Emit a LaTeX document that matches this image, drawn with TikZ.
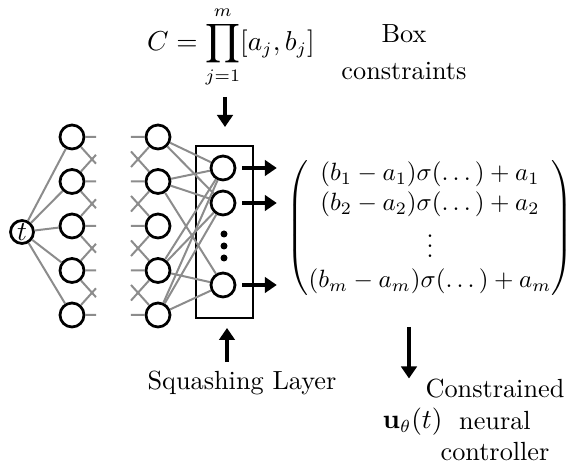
\documentclass[tikz,border=0pt]{standalone}
\usepackage{amsmath}
\usetikzlibrary{arrows.meta,calc}

\begin{document}
\begin{tikzpicture}[x=0.4pt,y=-0.4pt,
    every node/.style={font=\fontsize{10.5}{12.6}\selectfont},
    neuron/.style={draw,circle,line width=1.1pt,minimum size=9.6pt,inner sep=0pt},
    wire/.style={gray!90,line width=0.8pt},
    bigarrow/.style={line width=1.4pt,-{Triangle[length=4.8pt,width=6.2pt]}}]
  \useasboundingbox (0,0) rectangle (575,466);
  % input and the two hidden layers
  \node[neuron,minimum size=8.6pt,inner sep=0.5pt] (t) at (22,232) {$t$};
  \foreach \i/\y in {1/137,2/181.5,3/226,4/270.5,5/315}{
    \node[neuron] (a\i) at (72,\y) {};
    \node[neuron] (b\i) at (158,\y) {};
    \coordinate (pa\i) at (112,\y);
    \coordinate (pb\i) at (118,\y);
    \draw[wire] (t) -- (a\i);
  }
  % stubs on both sides of the gap
  \foreach \i/\j in {1/1,1/2,2/1,2/2,2/3,3/2,3/3,3/4,4/3,4/4,4/5,5/4,5/5}{
    \draw[wire] (a\i) -- ($(a\i.center)!0.6!(pa\j)$);
    \draw[wire] (b\j) -- ($(b\j.center)!0.675!(pb\i)$);
  }
  % squashing layer
  \node[draw,line width=1pt,minimum width=22.8pt,minimum height=68.8pt] (sq) at (224.5,232) {};
  \node[neuron] (c1) at (223,168) {};
  \node[neuron] (c2) at (223,203) {};
  \node[neuron] (cm) at (223,285) {};
  \foreach \y in {234,246,258}
    \fill (224,\y) circle (1.4pt);
  \foreach \i/\j in {1/1,1/2,2/1,2/2,2/m,4/1,4/2,4/m,5/1,5/2,5/m}
    \draw[wire] (b\i) -- (c\j);
  % outputs
  \node[inner sep=0pt,font=\normalsize] (vec) at (430,228) {$\begin{pmatrix}
      (b_1-a_1)\sigma(\dots)+a_1\\
      (b_2-a_2)\sigma(\dots)+a_2\\
      \vdots\\
      (b_m-a_m)\sigma(\dots)+a_m
    \end{pmatrix}$};
  \foreach \j in {1,2,m}
    \draw[bigarrow,shorten <=2.4pt,shorten >=3.8pt] (c\j) -- (c\j -| vec.west);
  % labels
  \node (cset) at (231,47) {$\displaystyle C=\prod_{j=1}^{m}[a_j,b_j]$};
  \node[align=center] (boxtxt) at (404,52) {Box\\[2.4pt]constraints};
  \coordinate (cin) at (225,127);
  \draw[bigarrow] (cset.south -| cin) -- (cin);
  \node (sqtxt) at (242,383) {Squashing Layer};
  \coordinate (sqin) at (227,328);
  \draw[bigarrow] (sqtxt.north -| sqin) -- (sqin);
  \node (u) at (412.5,422) {$\mathbf{u}_\theta(t)$};
  \node[align=center] (ctrl) at (495,420) {Constrained\\neural\\controller};
  \coordinate (uarr) at (409,327);
  \draw[bigarrow] (uarr) -- ($(uarr |- u.north)+(0,-21)$);
\end{tikzpicture}
\end{document}
